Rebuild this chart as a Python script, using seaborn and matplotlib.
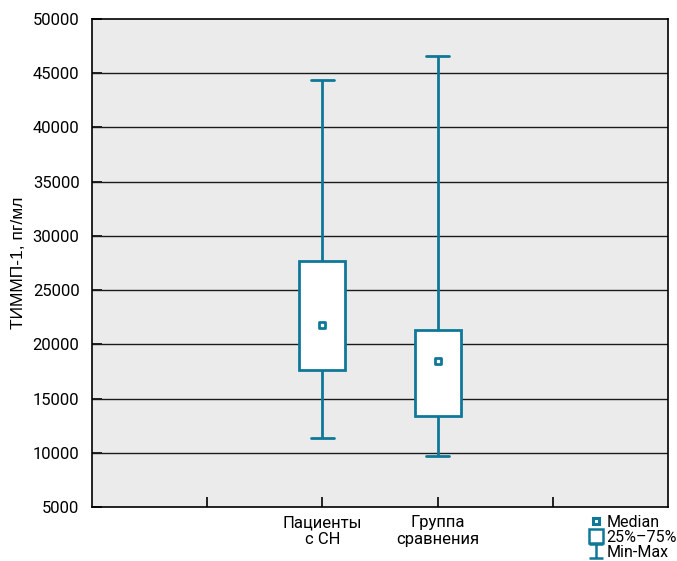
import numpy as np
import pandas as pd
import matplotlib
matplotlib.use("Agg")
import matplotlib.pyplot as plt
import seaborn as sns
from matplotlib.path import Path
from matplotlib.lines import Line2D

groups = ["Пациенты\nс СН", "Группа\nсравнения"]
v_min = [11400, 9700]
v_q1 = [17600, 13400]
v_med = [21800, 18500]
v_q3 = [27700, 21300]
v_max = [44400, 46600]
y_label = "ТИММП-1, пг/мл"
legend_labels = ["Median", "25%–75%", "Min-Max"]

color = "#0f7899"

rows = []
for g, a, b, c, d, e in zip(groups, v_min, v_q1, v_med, v_q3, v_max):
    for v in (a, b, c, d, e):
        rows.append({"group": g, "value": v})
df = pd.DataFrame(rows)
med_df = pd.DataFrame({"group": groups, "value": v_med})

sns.set_theme(style="white")
plt.rcParams["font.family"] = ["Roboto", "DejaVu Sans"]
plt.rcParams["text.color"] = "black"
plt.rcParams["xtick.color"] = "black"
plt.rcParams["ytick.color"] = "black"
plt.rcParams["axes.labelcolor"] = "black"

fig = plt.figure(figsize=(6.77, 5.61), dpi=100)
ax = fig.add_axes([92/677, 1-507/561, (668-92)/677, (507-19)/561])
ax.set_facecolor("#ebebeb")

sns.boxplot(data=df, x="group", y="value", order=groups, whis=(0, 100), width=0.4,
            ax=ax, color="white",
            boxprops=dict(facecolor="white", edgecolor=color, linewidth=2.0),
            whiskerprops=dict(color=color, linewidth=2.0),
            capprops=dict(color=color, linewidth=2.0),
            medianprops=dict(visible=False),
            showfliers=False, zorder=3)

sns.scatterplot(data=med_df, x="group", y="value", marker="s", s=22,
                facecolor="white", edgecolor=color, linewidth=2.0, ax=ax, zorder=5)

ax.set_xlim(-2, 3)
ax.set_ylim(5000, 50000)
ax.set_yticks(np.arange(5000, 50001, 5000))
ax.set_yticklabels([str(v) for v in range(5000, 50001, 5000)], fontsize=12)
ax.set_xticks([-1, 0, 1, 2])
ax.set_xticklabels(["", groups[0], groups[1], ""], fontsize=12, linespacing=1.15)
for yv in range(10000, 50000, 5000):
    ax.axhline(yv, color="#1a1a1a", lw=1.0, zorder=1)
ax.tick_params(axis="both", direction="in", length=7, width=1.2, color="black",
               left=True, bottom=True)
ax.tick_params(axis="y", pad=9)
ax.tick_params(axis="x", pad=6)
for s in ax.spines.values():
    s.set_color("black")
    s.set_linewidth(1.2)
ax.set_xlabel("")
ax.set_ylabel(y_label, fontsize=12.5, labelpad=5, family=["Liberation Sans", "DejaVu Sans"])

# legend
verts = [(-1, 1), (1, 1), (0, 1), (0, -1), (-1, -1), (1, -1)]
codes = [Path.MOVETO, Path.LINETO, Path.MOVETO, Path.LINETO, Path.MOVETO, Path.LINETO]
imark = Path(verts, codes)
handles = [
    Line2D([], [], marker="s", ls="none", markersize=5, markerfacecolor="white",
           markeredgecolor=color, markeredgewidth=2.2),
    Line2D([], [], marker="s", ls="none", markersize=10, markerfacecolor="white",
           markeredgecolor=color, markeredgewidth=1.8),
    Line2D([], [], marker=imark, ls="none", markersize=10, markerfacecolor="none",
           markeredgecolor=color, markeredgewidth=1.8),
]
leg = fig.legend(handles, legend_labels, loc="lower right", bbox_to_anchor=(1.012, -0.012),
                 frameon=False, fontsize=11.5, handlelength=0.8, handletextpad=0.25,
                 labelspacing=0.0, borderaxespad=0.1)

fig.savefig("out.png", dpi=100)
